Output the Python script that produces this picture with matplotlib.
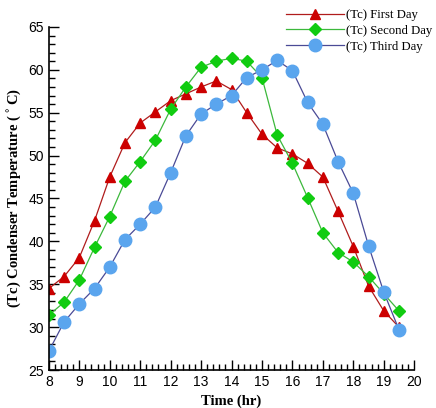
import matplotlib
matplotlib.use("Agg")
import matplotlib.pyplot as plt
from matplotlib.ticker import MultipleLocator

# time of day (hr)
hours = [8, 8.5, 9, 9.5, 10, 10.5, 11, 11.5, 12, 12.5, 13, 13.5,
         14, 14.5, 15, 15.5, 16, 16.5, 17, 17.5, 18, 18.5, 19, 19.5]

# condenser temperature (C)
tc_day1 = [34.5, 35.9, 38.1, 42.4, 47.5, 51.5, 53.8, 55.1, 56.4, 57.2, 58.0, 58.7,
           57.7, 55.0, 52.5, 50.9, 50.2, 49.1, 47.5, 43.5, 39.4, 34.8, 31.9, 30.0]
tc_day2 = [31.4, 32.9, 35.5, 39.3, 42.9, 47.0, 49.3, 51.8, 55.4, 58.0, 60.3, 61.0,
           61.35, 61.0, 59.1, 52.4, 49.1, 45.1, 41.0, 38.7, 37.6, 35.9, 33.9, 31.9]
tc_day3 = [27.2, 30.6, 32.7, 34.5, 37.0, 40.2, 42.0, 44.0, 48.0, 52.3, 54.85, 56.0,
           57.0, 59.1, 60.0, 61.1, 59.9, 56.2, 53.65, 49.3, 45.6, 39.5, 34.1, 29.7]

labels = ["(Tc) First Day", "(Tc) Second Day", "(Tc) Third Day"]

fig = plt.figure(figsize=(4.36, 4.08), dpi=100)
ax = fig.add_axes([0.112, 0.093, 0.838, 0.841])

ax.plot(hours, tc_day1, '-', color='#b01c1c', lw=0.9, marker='^', ms=7,
        mfc='#cc0000', mec='#cc0000', label=labels[0])
ax.plot(hours, tc_day2, '-', color='#3cb83c', lw=0.9, marker='D', ms=6.5,
        mfc='#11cc11', mec='#11cc11', label=labels[1])
ax.plot(hours, tc_day3, '-', color='#4a4a96', lw=0.9, marker='o', ms=9,
        mfc='#5aa5ee', mec='#5aa5ee', label=labels[2])

ax.set_xlim(8, 20)
ax.set_ylim(25, 65)
ax.xaxis.set_major_locator(MultipleLocator(1))
ax.xaxis.set_minor_locator(MultipleLocator(0.2))
ax.yaxis.set_major_locator(MultipleLocator(5))
ax.yaxis.set_minor_locator(MultipleLocator(1))
ax.tick_params(which='both', direction='in', width=1.0, labelsize=10)
ax.tick_params(which='major', length=7)
ax.tick_params(which='minor', length=4)
for lab in ax.get_xticklabels() + ax.get_yticklabels():
    lab.set_family('Liberation Sans')

for s in ['top', 'right']:
    ax.spines[s].set_visible(False)
for s in ['left', 'bottom']:
    ax.spines[s].set_linewidth(1.2)

ax.set_xlabel('Time (hr)', family='Liberation Serif', fontweight='bold', fontsize=10.5)
ax.set_ylabel('(Tc) Condenser Temperature ($^\\circ$C)', family='Liberation Serif',
              fontweight='bold', fontsize=10.5)

leg = fig.legend(loc='upper left', bbox_to_anchor=(0.655, 0.978), frameon=False,
                 prop={'family': 'Liberation Serif', 'size': 9.2},
                 handlelength=4.6, handletextpad=0.15, labelspacing=0.3,
                 borderpad=0, borderaxespad=0)

fig.savefig('out.png', dpi=100)
